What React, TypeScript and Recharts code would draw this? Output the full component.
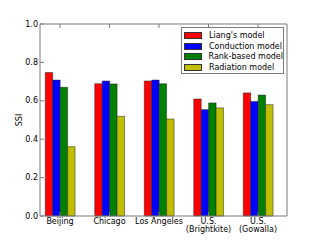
import { BarChart, Bar, XAxis, YAxis, Legend } from "recharts";

const cities = ["Beijing", "Chicago", "Los Angeles", "U.S.\n(Brightkite)", "U.S.\n(Gowalla)"];
const liang = [0.747, 0.689, 0.703, 0.609, 0.641];
const conduction = [0.708, 0.703, 0.708, 0.554, 0.597];
const rankBased = [0.67, 0.688, 0.689, 0.589, 0.63];
const radiation = [0.361, 0.519, 0.505, 0.563, 0.58];
const yTicks = [0, 0.2, 0.4, 0.6, 0.8, 1.0];

const series = [
  { key: "liang", name: "Liang's model", color: "#ff0000" },
  { key: "conduction", name: "Conduction model", color: "#0000ff" },
  { key: "rank", name: "Rank-based model", color: "#008000" },
  { key: "radiation", name: "Radiation model", color: "#bfbf00" },
];

const data = cities.map((name, i) => ({
  name,
  liang: liang[i],
  conduction: conduction[i],
  rank: rankBased[i],
  radiation: radiation[i],
}));

const FONT = "'DejaVu Sans', sans-serif";
const FRAME = "#7a7a7a";

function LeftTick({ x, y, payload }: any) {
  return (
    <g>
      <line x1={x} y1={y} x2={x + 4} y2={y} stroke={FRAME} />
      <text x={x - 2} y={y} textAnchor="end" dominantBaseline="central" fontSize={8} fontFamily={FONT} fill="#000">
        {Number(payload.value).toFixed(1)}
      </text>
    </g>
  );
}

function RightTick({ x, y }: any) {
  return <line x1={x - 4} y1={y} x2={x} y2={y} stroke={FRAME} />;
}

function TopTick({ x, y }: any) {
  return <line x1={x} y1={y} x2={x} y2={y + 4} stroke={FRAME} />;
}

function BottomTick({ x, y, payload }: any) {
  const lines = String(payload.value).split("\n");
  return (
    <g>
      <line x1={x} y1={y} x2={x} y2={y - 4} stroke={FRAME} />
      {lines.map((t, i) => (
        <text key={i} x={x} y={y + 7.5 + i * 8.5} textAnchor="middle" fontSize={8} fontFamily={FONT} fill="#000">
          {t}
        </text>
      ))}
    </g>
  );
}

function SsiLabel({ viewBox }: any) {
  const cx = viewBox.x + 19;
  const cy = viewBox.y + viewBox.height / 2;
  return (
    <text x={cx} y={cy} transform={`rotate(-90, ${cx}, ${cy})`} textAnchor="middle" dominantBaseline="central" fontSize={8} fontFamily={FONT} fill="#000">
      SSI
    </text>
  );
}

function LegendBox() {
  return (
    <div style={{ border: `1px solid ${FRAME}`, background: "#fff", padding: "2px 0 2px 2px", boxSizing: "border-box", width: 103, height: 47 }}>
      {series.map((s) => (
        <div key={s.key} style={{ display: "flex", alignItems: "center", height: 10.7 }}>
          <span style={{ width: 16, height: 5, background: s.color, border: "0.5px solid #333", marginRight: 7 }} />
          <span style={{ fontSize: 8, fontFamily: FONT, color: "#000", whiteSpace: "nowrap" }}>{s.name}</span>
        </div>
      ))}
    </div>
  );
}

export default function App() {
  return (
    <div style={{ position: "absolute", left: 0, top: 0, width: 320, height: 240, background: "#fff" }}>
      <BarChart
        width={320}
        height={240}
        data={data}
        margin={{ top: 23, right: 32, left: 0, bottom: 0 }}
        barGap={0}
        barSize={7.45}
      >
        <XAxis
          dataKey="name"
          interval={0}
          height={24}
          padding={{ left: -4.75, right: 4.25 }}
          stroke={FRAME}
          tickLine={false}
          tickSize={0}
          tickMargin={0}
          tick={<BottomTick />}
        />
        <XAxis
          xAxisId="top"
          dataKey="name"
          orientation="top"
          interval={0}
          height={1}
          padding={{ left: -4.75, right: 4.25 }}
          stroke={FRAME}
          tickLine={false}
          tickSize={0}
          tickMargin={0}
          tick={<TopTick />}
        />
        <YAxis
          domain={[0, 1]}
          ticks={yTicks}
          width={40}
          stroke={FRAME}
          tickLine={false}
          tickSize={0}
          tickMargin={0}
          tick={<LeftTick />}
          label={{ content: <SsiLabel /> }}
        />
        <YAxis
          yAxisId="right"
          orientation="right"
          domain={[0, 1]}
          ticks={yTicks}
          width={1}
          stroke={FRAME}
          tickLine={false}
          tickSize={0}
          tickMargin={0}
          tick={<RightTick />}
        />
        <Legend
          layout="horizontal"
          verticalAlign="middle"
          align="center"
          content={<LegendBox />}
          wrapperStyle={{ position: "absolute", left: 181, top: 27, width: 103, height: 47 }}
        />
        {series.map((s) => (
          <Bar
            key={s.key}
            dataKey={s.key}
            name={s.name}
            fill={s.color}
            stroke="#222"
            strokeWidth={0.5}
            isAnimationActive={false}
          />
        ))}
      </BarChart>
    </div>
  );
}
